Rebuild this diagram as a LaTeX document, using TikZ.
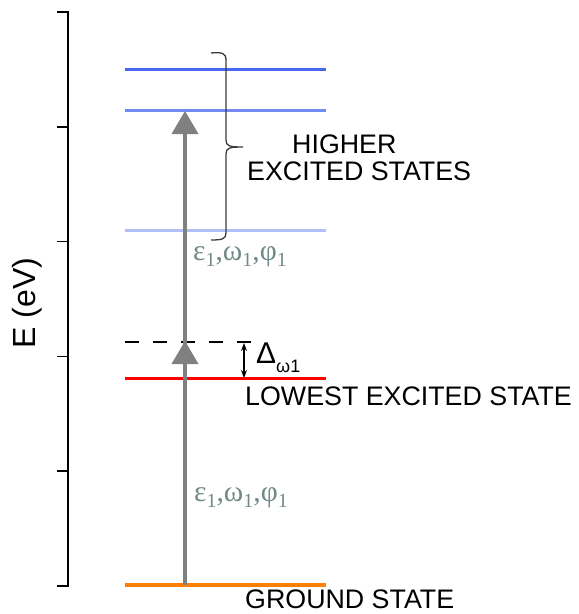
\documentclass[tikz,border=0pt]{standalone}
\usepackage{fontspec}
\setmainfont{Liberation Sans}
\newfontfamily\serifgr{Liberation Serif}
\usetikzlibrary{arrows.meta}
\definecolor{bluea}{RGB}{72,102,240}
\definecolor{blueb}{RGB}{115,138,245}
\definecolor{bluec}{RGB}{178,192,250}
\definecolor{redlvl}{RGB}{255,0,0}
\definecolor{orangelvl}{RGB}{255,128,0}
\definecolor{arrowgray}{RGB}{128,128,128}
\definecolor{greektxt}{RGB}{112,138,135}
\definecolor{bracegray}{RGB}{60,60,60}
\newcommand\lowsub[1]{\raisebox{-0.22em}{\fontsize{20}{21}\selectfont #1}}
\tikzset{
  level/.style={line width=3pt},
  axisline/.style={line width=1.7pt, black},
  lbl/.style={anchor=base west, inner sep=0pt, font=\fontsize{26.8}{30}\selectfont},
  greek/.style={anchor=base west, inner sep=0pt, text=greektxt, font=\serifgr\fontsize{29.5}{31}\selectfont},
  headtri/.style={fill=arrowgray, draw=none},
}
\begin{document}
\begin{tikzpicture}[x=1pt,y=-1pt]
\useasboundingbox (0,0) rectangle (579,614);
% axis
\coordinate (axtop) at (68,12);
\coordinate (axbot) at (68,586);
\draw[axisline] (57,12) -- (axtop) -- (axbot) -- (57,586);
\foreach \yy in {126.8,241.6,356.4,471.2} \draw[axisline] (57,\yy) -- (68,\yy);
\node[rotate=90, inner sep=0pt, font=\fontsize{32}{36}\selectfont] (elabel) at (27,303) {E (eV)};
% levels
\coordinate (h1l) at (125,69);  \coordinate (h1r) at (326,69);
\coordinate (h2l) at (125,110); \coordinate (h2r) at (326,110);
\coordinate (h3l) at (125,230); \coordinate (h3r) at (326,230);
\coordinate (vl) at (125,342);  \coordinate (vr) at (252,342);
\coordinate (ll) at (125,378);  \coordinate (lr) at (326,378);
\coordinate (gl) at (125,585);  \coordinate (gr) at (326,585);
\draw[level, bluea] (h1l) -- (h1r);
\draw[level, blueb] (h2l) -- (h2r);
\draw[level, bluec] (h3l) -- (h3r);
\draw[line width=2.2pt, black, dash pattern=on 14pt off 14pt] (vl) -- (vr);
\draw[level, redlvl] (ll) -- (lr);
\draw[line width=3.2pt, orangelvl] (gl) -- (gr);
% excitation arrow
\coordinate (abot) at (185,585);
\coordinate (atip) at (185,111);
\coordinate (mtip) at (185,341);
\draw[line width=4pt, arrowgray] (abot) -- (185,130);
\fill[headtri] (atip) -- ++(-13.5,23) -- ++(27,0) -- cycle;
\fill[headtri] (mtip) -- ++(-13.5,23) -- ++(27,0) -- cycle;
% detuning arrow
\coordinate (dtop) at (244,343);
\coordinate (dbot) at (244,378);
\draw[line width=1.2pt, {Stealth[length=8pt,width=6pt]}-{Stealth[length=8pt,width=6pt]}] (dtop) -- (dbot);
\node[anchor=base west, inner sep=0pt, font=\fontsize{30}{32}\selectfont] (delta) at (256,363) {Δ};
\node[anchor=base west, inner sep=0pt, font=\fontsize{18}{20}\selectfont] (deltasub) at (276,372) {ω1};
% brace
\draw[line width=1.3pt, bracegray]
  (211,53) .. controls (222,52) and (226,53) .. (226,60)
  -- (226,140) .. controls (226,146) and (229,147) .. (243,147)
  .. controls (229,147) and (226,148) .. (226,154)
  -- (226,233) .. controls (226,239) and (222,240) .. (211,240);
% labels
\node[lbl] (higher) at (292,153) {HIGHER};
\node[lbl] (excited) at (247,180) {EXCITED STATES};
\node[lbl] (lowest) at (245,405) {LOWEST EXCITED STATE};
\node[lbl] (ground) at (245,608) {GROUND STATE};
\node[greek] (gup) at (193,260) {ε\lowsub{1},ω\lowsub{1},φ\lowsub{1}};
\node[greek] (gdown) at (194,501) {ε\lowsub{1},ω\lowsub{1},φ\lowsub{1}};
\end{tikzpicture}
\end{document}
